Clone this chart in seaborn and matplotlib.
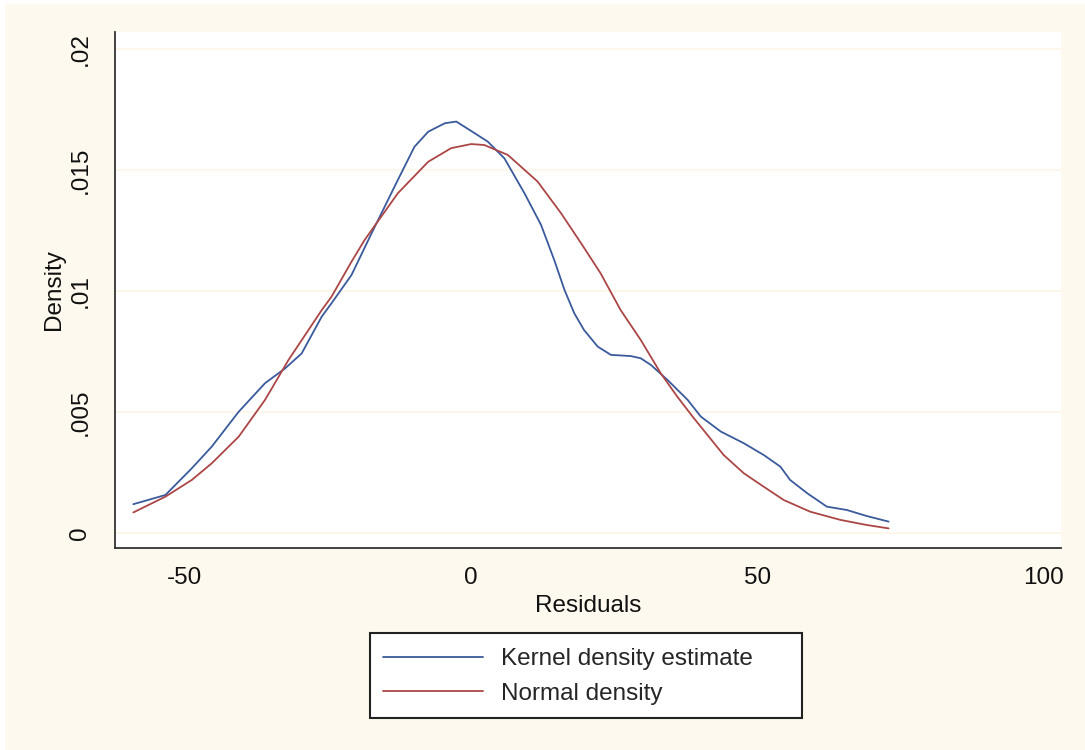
import numpy as np
import pandas as pd
import matplotlib
matplotlib.use("Agg")
import matplotlib.pyplot as plt
import seaborn as sns
from matplotlib.patches import Rectangle

# Kernel density estimate
kde_x = [-59.0, -53.4, -48.8, -45.3, -40.6, -36.0, -32.5, -29.6, -26.1, -24.4, -20.9,
         -17.4, -12.8, -9.9, -7.5, -4.6, -2.6, 0.6, 2.9, 5.8, 9.3, 12.2, 14.5, 16.3,
         18.0, 19.7, 22.1, 24.4, 27.9, 29.6, 31.4, 34.3, 37.8, 40.1, 43.6, 47.6, 51.1,
         54.0, 55.7, 58.7, 62.1, 65.6, 69.1, 72.9]
kde_y = [0.00119, 0.00157, 0.00267, 0.00357, 0.00501, 0.00619, 0.00680, 0.00742, 0.00894,
         0.00949, 0.01066, 0.01238, 0.01459, 0.01596, 0.01658, 0.01693, 0.01700, 0.01652,
         0.01617, 0.01548, 0.01404, 0.01273, 0.01128, 0.01004, 0.00908, 0.00839, 0.00770,
         0.00736, 0.00731, 0.00722, 0.00694, 0.00632, 0.00550, 0.00481, 0.00419, 0.00371,
         0.00322, 0.00274, 0.00219, 0.00164, 0.00109, 0.00095, 0.00070, 0.00047]

# Normal density
norm_x = [-59.0, -53.4, -48.8, -45.3, -40.6, -36.0, -31.9, -26.1, -24.4, -20.9, -18.6,
          -12.8, -7.5, -3.5, 0.0, 2.3, 6.4, 11.6, 15.7, 19.2, 22.6, 26.1, 29.6, 33.1,
          36.0, 38.9, 40.1, 44.1, 47.6, 51.1, 54.6, 59.2, 64.5, 69.1, 72.9]
norm_y = [0.00085, 0.00150, 0.00219, 0.00288, 0.00398, 0.00550, 0.00715, 0.00921, 0.00976,
          0.01121, 0.01211, 0.01404, 0.01534, 0.01590, 0.01607, 0.01603, 0.01562, 0.01452,
          0.01321, 0.01197, 0.01073, 0.00921, 0.00798, 0.00660, 0.00563, 0.00474, 0.00439,
          0.00322, 0.00247, 0.00191, 0.00136, 0.00088, 0.00054, 0.00033, 0.00019]

series_names = ["Kernel density estimate", "Normal density"]
x_ticks = [-50, 0, 50, 100]
x_tick_labels = ["-50", "0", "50", "100"]
y_ticks = [0, 0.005, 0.01, 0.015, 0.02]
y_tick_labels = ["0", ".005", ".01", ".015", ".02"]

df = pd.concat([
    pd.DataFrame({"x": kde_x, "y": kde_y, "series": series_names[0]}),
    pd.DataFrame({"x": norm_x, "y": norm_y, "series": series_names[1]}),
])

sns.set_style("white")
plt.rcParams["font.family"] = ["Liberation Sans", "DejaVu Sans"]

FS = 17.5
cream = "#fef9ee"
blue = "#3a5a9c"
red = "#ac4646"
W, H = 1085, 750
fig = plt.figure(figsize=(10.85, 7.5), dpi=100)
fig.patch.set_facecolor("white")
fig.add_artist(Rectangle((5 / W, 0), 1080 / W, 746 / H,
                         transform=fig.transFigure, facecolor=cream, edgecolor="none", zorder=-10))

ax = fig.add_axes([115 / W, 1 - 548 / H, 946 / W, 516 / H])
ax.set_facecolor("white")

sns.lineplot(data=df, x="x", y="y", hue="series", hue_order=series_names,
             palette=[blue, red], linewidth=1.3, sort=False,
             estimator=None, ax=ax, legend=False)

ax.set_xlim(-62.2, 103)
ax.set_ylim(-0.00062, 0.0207)
ax.set_xticks(x_ticks)
ax.set_xticklabels(x_tick_labels, fontsize=FS, color="#111111")
ax.set_yticks(y_ticks)
ax.set_yticklabels(y_tick_labels, fontsize=FS, rotation=90, va="center", color="#111111")
ax.tick_params(axis="both", direction="out", length=8, width=1.2, color="#333333")
ax.tick_params(axis="x", pad=6)
ax.tick_params(axis="y", pad=9)
ax.yaxis.grid(True, color="#fdf5e8", linewidth=1.2)
ax.xaxis.grid(False)
for s in ["top", "right"]:
    ax.spines[s].set_visible(False)
for s in ["left", "bottom"]:
    ax.spines[s].set_color("#333333")
    ax.spines[s].set_linewidth(1.3)

ax.set_xlabel("Residuals", fontsize=FS, color="#111111", labelpad=4)
ax.set_ylabel("Density", fontsize=FS, color="#111111", labelpad=3)

# legend box
fig.add_artist(Rectangle((370 / W, 1 - 718 / H), 432 / W, 85 / H,
                         transform=fig.transFigure, facecolor="white",
                         edgecolor="#222222", linewidth=1.5, zorder=5))
handles = [plt.Line2D([], [], color=blue, lw=1.3),
           plt.Line2D([], [], color=red, lw=1.3)]
leg = fig.legend(handles, series_names, loc="upper left",
                 bbox_to_anchor=(376 / W, 1 - 641 / H), fontsize=FS,
                 frameon=False, handlelength=4.1, handletextpad=0.75,
                 borderpad=0.3, labelspacing=0.52, borderaxespad=0)
leg.set_zorder(6)

fig.savefig("out.png", dpi=100, facecolor=fig.get_facecolor())
